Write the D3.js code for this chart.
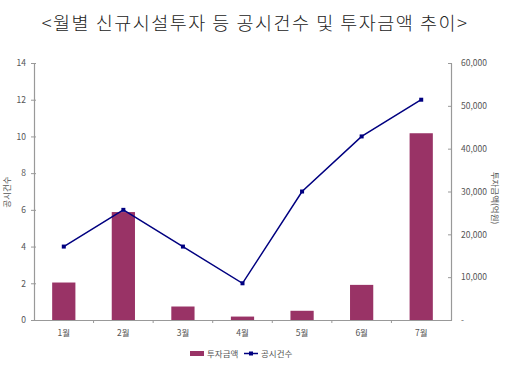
<!DOCTYPE html>
<html><head><meta charset="utf-8">
<script src="https://cdn.jsdelivr.net/npm/d3@7"></script>
<style>body{margin:0;background:#fff}svg{display:block}</style>
</head><body><svg id="c" width="510" height="365"></svg>
<script>
const months = ["1월","2월","3월","4월","5월","6월","7월"];
const amounts = [8750, 25200, 3150, 800, 2150, 8200, 43600];
const counts = [4, 6, 4, 2, 7, 10, 12];
const leftTicks = [0,2,4,6,8,10,12,14];
const rightTicks = [0,10000,20000,30000,40000,50000,60000];
const title = "<월별 신규시설투자 등 공시건수 및 투자금액 추이>";
const leftTitle = "공시건수";
const rightTitle = "투자금액(억원)";
const legendLabels = ["투자금액","공시건수"];

const svg = d3.select("#c");
const font = "'Noto Sans CJK KR','Noto Sans',sans-serif";
const L = 34, R = 451, T = 63, B = 320;
const axisColor = "#999";
const barColor = "#993366", lineColor = "#000080";

const x = d3.scaleBand().domain(months).range([L,R]);
const yL = d3.scaleLinear().domain([0,14]).range([B,T]);
const yR = d3.scaleLinear().domain([0,60000]).range([B,T]);

svg.append("text").attr("x",255).attr("y",30).attr("text-anchor","middle")
  .attr("font-family",font).attr("font-size",18.5).attr("font-weight",300).attr("fill","#222")
  .attr("letter-spacing",1.5).text(title);

// bars
svg.append("g").selectAll("rect").data(amounts).join("rect")
  .attr("x",(d,i)=>x(months[i])+x.bandwidth()*0.305)
  .attr("width",x.bandwidth()*0.39)
  .attr("y",d=>yR(d)).attr("height",d=>B-yR(d))
  .attr("fill",barColor);

// axes
const gL = svg.append("g").attr("transform",`translate(${L},0)`)
  .call(d3.axisLeft(yL).tickValues(leftTicks).tickSize(3).tickSizeOuter(0).tickPadding(5));
const gR = svg.append("g").attr("transform",`translate(${R},0)`)
  .call(d3.axisRight(yR).tickValues(rightTicks).tickSize(3).tickSizeOuter(0).tickPadding(7)
    .tickFormat(d=>d===0?"-":d3.format(",")(d)));
const gB = svg.append("g").attr("transform",`translate(0,${B})`)
  .call(d3.axisBottom(x).tickSize(0).tickPadding(10));
[gL,gR,gB].forEach(g=>{
  g.select(".domain").attr("stroke",axisColor).attr("stroke-width",1.2);
  g.selectAll(".tick line").attr("stroke",axisColor);
  g.selectAll("text").attr("font-family",font).attr("font-size",8.5).attr("fill","#555");
});
gL.selectAll(".tick line").attr("x1",-3).attr("x2",2);
gR.selectAll(".tick line").attr("x1",-3).attr("x2",1);
// category boundary ticks
svg.append("g").selectAll("line").data(months.slice(1)).join("line")
  .attr("x1",d=>x(d)).attr("x2",d=>x(d)).attr("y1",B).attr("y2",B+3)
  .attr("stroke",axisColor);

// line
const line = d3.line().x((d,i)=>x(months[i])+x.bandwidth()/2).y(d=>yL(d));
svg.append("path").datum(counts).attr("d",line).attr("fill","none")
  .attr("stroke",lineColor).attr("stroke-width",1.5);
svg.append("g").selectAll("rect").data(counts).join("rect")
  .attr("x",(d,i)=>x(months[i])+x.bandwidth()/2-2).attr("y",d=>yL(d)-2)
  .attr("width",4).attr("height",4).attr("fill",lineColor);

// axis titles
svg.append("text").attr("transform","translate(10,192) rotate(-90)")
  .attr("text-anchor","middle").attr("font-family",font).attr("font-size",8.5).attr("fill","#555")
  .text(leftTitle);
svg.append("text").attr("transform","translate(492,198) rotate(90)")
  .attr("text-anchor","middle").attr("font-family",font).attr("font-size",8.5).attr("fill","#555")
  .text(rightTitle);

// legend
const lg = svg.append("g");
lg.append("rect").attr("x",190).attr("y",351).attr("width",14).attr("height",5).attr("fill",barColor);
lg.append("text").attr("x",207).attr("y",357).attr("font-family",font).attr("font-size",8.5).attr("fill","#555").text(legendLabels[0]);
lg.append("line").attr("x1",244).attr("x2",258).attr("y1",353.5).attr("y2",353.5).attr("stroke",lineColor).attr("stroke-width",1.5);
lg.append("rect").attr("x",249).attr("y",351.5).attr("width",4).attr("height",4).attr("fill",lineColor);
lg.append("text").attr("x",261).attr("y",357).attr("font-family",font).attr("font-size",8.5).attr("fill","#555").text(legendLabels[1]);
</script></body></html>
